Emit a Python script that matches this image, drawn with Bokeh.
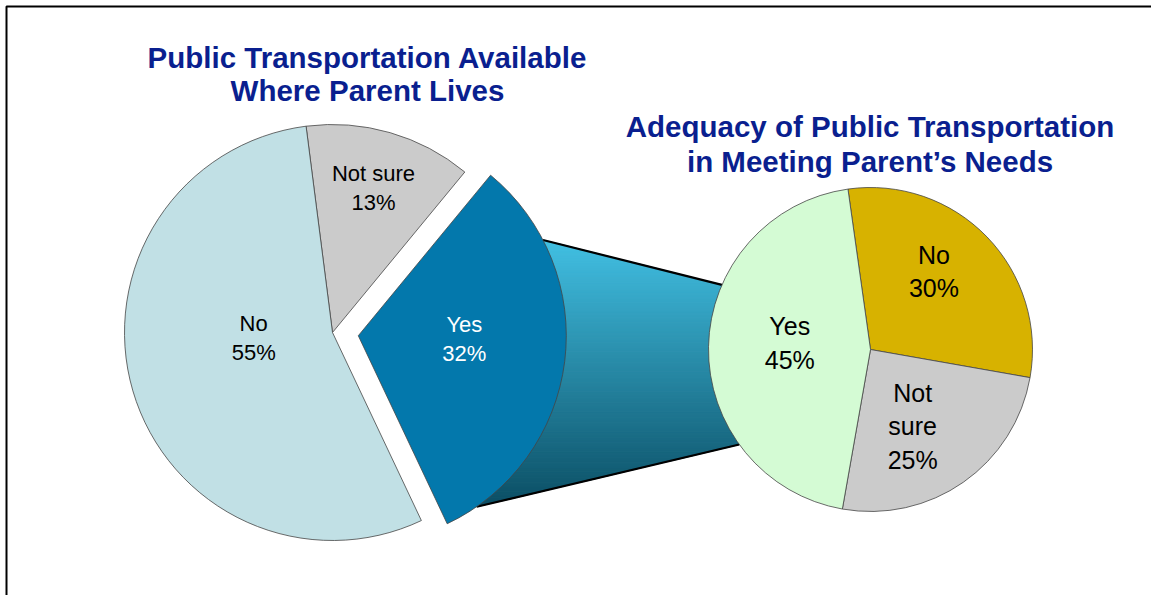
import math
from bokeh.plotting import figure
from bokeh.models import Range1d, ColumnDataSource
from bokeh.core.properties import value
from bokeh.embed import file_html
from bokeh.resources import INLINE

# ---------------- data ----------------
left_title = ["Public Transportation Available", "Where Parent Lives"]
left_categories = ["Not sure", "Yes", "No"]
left_values = [13, 32, 55]
left_display = ["Not sure", "Yes", "No"]

right_title = ["Adequacy of Public Transportation", "in Meeting Parent\u2019s Needs"]
right_categories = ["No", "Not sure", "Yes"]
right_values = [30, 25, 45]
right_display = ["No", "Not\nsure", "Yes"]

# ---------------- style / layout ----------------
left_colors = ["#cbcbcb", "#0378ac", "#c1e0e5"]
left_text_colors = ["#000000", "#ffffff", "#000000"]
right_colors = ["#d7b200", "#cbcbcb", "#d4fbd4"]
TITLE_COLOR = "#0a1f8f"
FONT = "Liberation Sans"

PAGE_H = 603
FIG_W, FIG_H = 1151, 595

L_CX, L_CY, L_R, L_START = 332.0, 332.0, 208.0, -7.3
EXPLODE = 26.0
R_CX, R_CY, R_R, R_START = 870.0, 349.0, 162.0, -8.0

left_label_pos = [(15.9, 0.72), (91.6, 0.51), (265.7, 0.38)]   # (angle cw from top, radius fraction)
right_label_pos = [(39.2, 0.62), (151.2, 0.54), (274.6, 0.50)]
L_FS, L_LS = 22, 29
R_FS, R_LS = 25, 33.5

CONN_LEFT = (62.6, 145.3)    # angles on exploded slice arc
CONN_RIGHT = (293.5, 234.1)  # angles on secondary pie
GRAD_TOP = (0x42, 0xc0, 0xe3)
GRAD_BOT = (0x0b, 0x4e, 0x64)


def Y(py):
    return PAGE_H - py


def pt(cx, cy, r, th):
    t = math.radians(th)
    return (cx + r * math.sin(t), cy - r * math.cos(t))


p = figure(width=FIG_W, height=FIG_H,
           x_range=Range1d(0, FIG_W), y_range=Range1d(PAGE_H - FIG_H, PAGE_H),
           output_backend="svg", toolbar_location=None,
           x_axis_type=None, y_axis_type=None, min_border=0,
           outline_line_color=None, background_fill_color="white", border_fill_color="white")
for g in p.grid:
    g.visible = False

# frame (top and left edge visible)
p.line(x=[6, 6, 1200], y=[Y(640), Y(6), Y(6)], line_color="black", line_width=2)

# ---------------- pie geometry ----------------
def slices(values, start):
    out = []
    a = start
    for v in values:
        b = a + v / 100.0 * 360.0
        out.append((a, b))
        a = b
    return out

l_sl = slices(left_values, L_START)
r_sl = slices(right_values, R_START)

yes_i = left_categories.index("Yes")
yb = sum(l_sl[yes_i]) / 2.0
ex_cx, ex_cy = pt(L_CX, L_CY, EXPLODE, yb)

# ---------------- connector with gradient ----------------
q = [pt(ex_cx, ex_cy, L_R, CONN_LEFT[0]), pt(R_CX, R_CY, R_R, CONN_RIGHT[0]),
     pt(R_CX, R_CY, R_R, CONN_RIGHT[1]), pt(ex_cx, ex_cy, L_R, CONN_LEFT[1])]


def clip(poly, c, keep_above):
    def inside(P):
        return P[1] >= c if keep_above else P[1] <= c

    def inter(A, B):
        t = (c - A[1]) / (B[1] - A[1])
        return (A[0] + t * (B[0] - A[0]), c)
    out = []
    n = len(poly)
    for i in range(n):
        cur, prev = poly[i], poly[i - 1]
        if inside(cur):
            if not inside(prev):
                out.append(inter(prev, cur))
            out.append(cur)
        elif inside(prev):
            out.append(inter(prev, cur))
    return out

ytop = min(P[1] for P in q)
ybot = max(P[1] for P in q)
N = 120
xs, ys, cols = [], [], []
for i in range(N):
    y0 = ytop + (ybot - ytop) * i / N
    y1 = ytop + (ybot - ytop) * (i + 1) / N
    poly = clip(clip(q, y0, True), y1, False)
    if len(poly) < 3:
        continue
    t = (i + 0.5) / N
    c = tuple(int(round(GRAD_TOP[k] + (GRAD_BOT[k] - GRAD_TOP[k]) * t)) for k in range(3))
    cols.append("#%02x%02x%02x" % c)
    xs.append([P[0] for P in poly])
    ys.append([Y(P[1]) for P in poly])
p.patches(xs=xs, ys=ys, fill_color=cols, line_color=cols, line_width=1.2)

p.segment(x0=[q[0][0], q[3][0]], y0=[Y(q[0][1]), Y(q[3][1])],
          x1=[q[1][0], q[2][0]], y1=[Y(q[1][1]), Y(q[2][1])],
          line_color="black", line_width=2.2)

# ---------------- pies ----------------
def wedge_src(cxs, cys, r, sl, colors):
    return ColumnDataSource(dict(
        x=cxs, y=[Y(c) for c in cys], r=[r] * len(sl),
        s=[math.radians(90 - b) for a, b in sl],
        e=[math.radians(90 - a) for a, b in sl],
        c=colors))

lcx = [ex_cx if i == yes_i else L_CX for i in range(len(l_sl))]
lcy = [ex_cy if i == yes_i else L_CY for i in range(len(l_sl))]
p.wedge(x="x", y="y", radius="r", start_angle="s", end_angle="e", fill_color="c",
        line_color="#454545", line_width=0.8,
        source=wedge_src(lcx, lcy, L_R, l_sl, left_colors))
p.wedge(x="x", y="y", radius="r", start_angle="s", end_angle="e", fill_color="c",
        line_color="#454545", line_width=0.8,
        source=wedge_src([R_CX] * 3, [R_CY] * 3, R_R, r_sl, right_colors))

# ---------------- labels ----------------
tx, ty, tt, tc, tf = [], [], [], [], []

def add_label(cx, cy, r, ang, frac, text, fs, ls, color):
    bx, by = pt(cx, cy, r * frac, ang)
    lines = text.split("\n")
    n = len(lines)
    c1 = by - (n - 1) * ls / 2.0
    for k, ln in enumerate(lines):
        tx.append(bx)
        ty.append(Y(c1 + k * ls))
        tt.append(ln)
        tc.append(color)
        tf.append("%dpx" % fs)

for i in range(len(left_values)):
    add_label(lcx[i], lcy[i], L_R, left_label_pos[i][0], left_label_pos[i][1],
              "%s\n%d%%" % (left_display[i], left_values[i]), L_FS, L_LS, left_text_colors[i])
for i in range(len(right_values)):
    add_label(R_CX, R_CY, R_R, right_label_pos[i][0], right_label_pos[i][1],
              "%s\n%d%%" % (right_display[i], right_values[i]), R_FS, R_LS, "#000000")

p.text(x="x", y="y", text="t", text_color="c", text_font_size="f",
       text_font=value(FONT), text_align="center", text_baseline="middle",
       source=ColumnDataSource(dict(x=tx, y=ty, t=tt, c=tc, f=tf)))

# ---------------- titles ----------------
title_x = [367, 367, 869.5, 869.5]
title_mid = [56.5, 89.5, 126, 160.5]
p.text(x=title_x, y=[Y(b) for b in title_mid], text=left_title + right_title,
       text_color=TITLE_COLOR, text_font=value(FONT), text_font_style="bold",
       text_font_size="29.5px", text_align="center", text_baseline="middle")

open("out.html", "w").write(file_html(p, INLINE))
